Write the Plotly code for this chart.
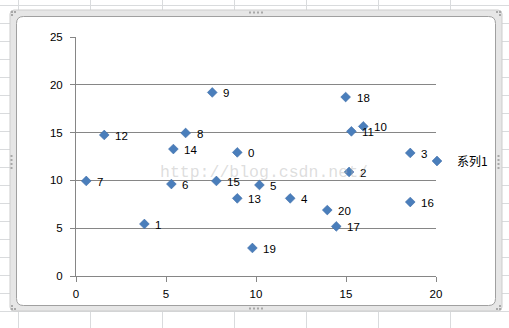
import plotly.graph_objects as go

# ---- data ----
point_labels = ["0", "1", "2", "3", "4", "5", "6", "7", "8", "9", "10",
                "11", "12", "13", "14", "15", "16", "17", "18", "19", "20"]
x_vals = [8.96, 3.8, 15.17, 18.57, 11.9, 10.19, 5.3, 0.57, 6.09, 7.57, 15.96,
          15.3, 1.57, 8.96, 5.41, 7.8, 18.57, 14.46, 14.98, 9.8, 13.96]
y_vals = [12.93, 5.44, 10.88, 12.87, 8.12, 9.52, 9.62, 9.94, 14.96, 19.2, 15.65,
          15.13, 14.75, 8.12, 13.28, 9.94, 7.74, 5.19, 18.72, 2.93, 6.9]
series_name = "系列1"
x_ticks = [0, 5, 10, 15, 20]
y_ticks = [0, 5, 10, 15, 20, 25]

W, H = 509, 328
L, R, T, B = 76, 436, 37, 276


def px(x):
    return (x - L) / (R - L)


def py(y):
    return (B - y) / (B - T)


def rrect(x0, y0, x1, y1, r):
    pts = [
        f"M{px(x0 + r)},{py(y0)}",
        f"L{px(x1 - r)},{py(y0)}",
        f"Q{px(x1)},{py(y0)} {px(x1)},{py(y0 + r)}",
        f"L{px(x1)},{py(y1 - r)}",
        f"Q{px(x1)},{py(y1)} {px(x1 - r)},{py(y1)}",
        f"L{px(x0 + r)},{py(y1)}",
        f"Q{px(x0)},{py(y1)} {px(x0)},{py(y1 - r)}",
        f"L{px(x0)},{py(y0 + r)}",
        f"Q{px(x0)},{py(y0)} {px(x0 + r)},{py(y0)}",
        "Z",
    ]
    return " ".join(pts)


shapes = []
# spreadsheet grid behind the chart
for gx in [18, 90, 162, 234, 306, 378, 450]:
    shapes.append(dict(type="line", xref="paper", yref="paper", layer="below",
                       x0=px(gx + 0.5), x1=px(gx + 0.5), y0=py(0), y1=py(H),
                       line=dict(color="#d9dbdd", width=1)))
for gy in range(5, H, 18):
    shapes.append(dict(type="line", xref="paper", yref="paper", layer="below",
                       x0=px(0), x1=px(W), y0=py(gy + 0.5), y1=py(gy + 0.5),
                       line=dict(color="#d9dbdd", width=1)))
# chart frame
shapes.append(dict(type="path", xref="paper", yref="paper", layer="below",
                   path=rrect(10, 10, 502, 311, 4),
                   fillcolor="#e6e6e6", line=dict(color="#cdcdcd", width=1)))
shapes.append(dict(type="path", xref="paper", yref="paper", layer="below",
                   path=rrect(16.5, 16.5, 495.5, 305.5, 7),
                   fillcolor="#ffffff", line=dict(color="#a0a0a0", width=1)))
# grip dots
dots = []
for i in range(4):
    dots.append((250 + 4 * i, 12.5))
    dots.append((250 + 4 * i, 308.5))
    dots.append((11.5, 156 + 4 * i))
    dots.append((498.5, 156 + 4 * i))
for (cx, cy) in [(12, 12), (15, 12), (12, 15), (497, 12), (500, 12), (500, 15),
                 (12, 306), (12, 309), (15, 309), (500, 306), (497, 309), (500, 309)]:
    dots.append((cx, cy))
for (cx, cy) in dots:
    shapes.append(dict(type="rect", xref="paper", yref="paper", layer="below",
                       x0=px(cx - 1), x1=px(cx + 1), y0=py(cy - 1), y1=py(cy + 1),
                       fillcolor="#a8a8a8", line=dict(width=0)))

fig = go.Figure()
fig.add_trace(go.Scatter(
    x=x_vals, y=y_vals, mode="markers", name=series_name,
    marker=dict(symbol="diamond", size=7.5, color="#4a7ebb",
                line=dict(color="#3c6ca8", width=0.6)),
    cliponaxis=False,
))

annotations = []
for xv, yv, lab in zip(x_vals, y_vals, point_labels):
    annotations.append(dict(x=xv, y=yv, xref="x", yref="y", text=lab,
                            showarrow=False, xanchor="left", yanchor="middle",
                            xshift=9, yshift=-1,
                            font=dict(family="Liberation Sans", size=11.5, color="#000000")))
annotations.append(dict(x=px(264), y=py(172), xref="paper", yref="paper",
                        text="http://blog.csdn.net/", showarrow=False,
                        xanchor="center", yanchor="middle",
                        font=dict(family="Liberation Mono", size=16.5,
                                  color="rgba(180,180,180,0.45)")))

fig.update_layout(
    width=W, height=H,
    margin=dict(l=L, r=W - R, t=T, b=H - B, pad=0),
    paper_bgcolor="#ffffff", plot_bgcolor="rgba(0,0,0,0)",
    font=dict(family="Liberation Sans", size=11.5, color="#000000"),
    shapes=shapes, annotations=annotations,
    showlegend=True,
    legend=dict(x=px(417), y=py(161), xanchor="left", yanchor="middle",
                bgcolor="rgba(0,0,0,0)", borderwidth=0,
                font=dict(family="Noto Sans CJK SC", size=12, color="#000000")),
)
fig.update_xaxes(range=[0, 20], tickvals=x_ticks, ticktext=[str(t) for t in x_ticks],
                 showgrid=False, zeroline=False, showline=True,
                 linecolor="#868686", linewidth=1,
                 ticks="outside", ticklen=5, tickcolor="#868686",
                 ticklabelstandoff=2, fixedrange=True)
fig.update_yaxes(range=[0, 25], tickvals=y_ticks, ticktext=[str(t) for t in y_ticks],
                 showgrid=True, gridcolor="#868686", gridwidth=1, zeroline=False,
                 showline=True, linecolor="#868686", linewidth=1,
                 ticks="outside", ticklen=5, tickcolor="#868686",
                 ticklabelstandoff=5, fixedrange=True)

fig.write_html("out.html", config={"displayModeBar": False})
